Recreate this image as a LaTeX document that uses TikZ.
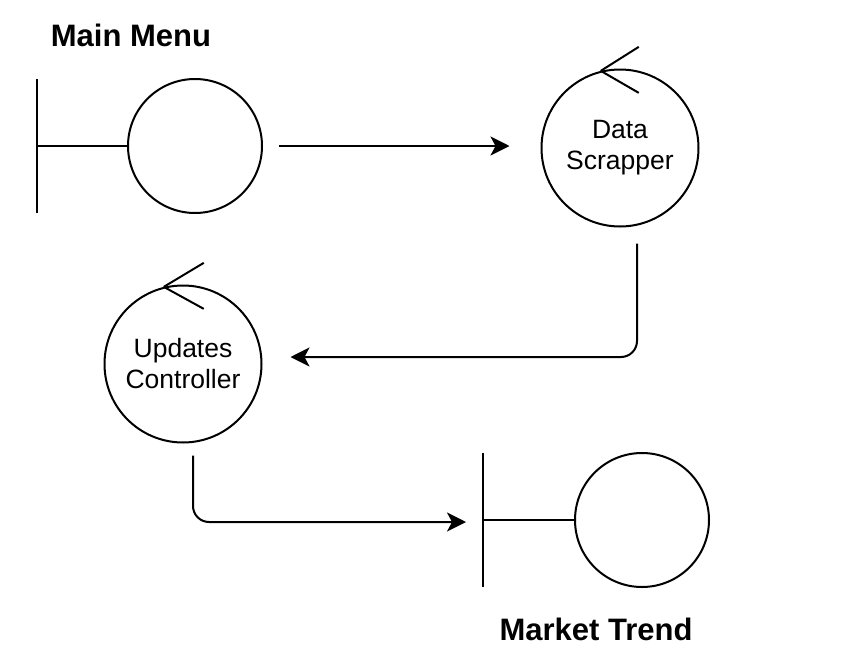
\documentclass[tikz,border=0pt]{standalone}
\usepackage{fontspec}
\setmainfont{Liberation Sans}
\usetikzlibrary{arrows.meta, positioning, calc}
\tikzset{
  ent/.style={draw, circle, line width=2pt, inner sep=0pt, minimum size=134pt},
  ctl/.style={draw, circle, line width=2pt, inner sep=0pt, minimum size=157pt, align=center,
    font=\fontsize{26.5}{31}\selectfont},
  arr/.style={-{Stealth[length=19pt, width=19pt, inset=5pt]}, line width=2pt, rounded corners=16pt},
  ttl/.style={font=\fontsize{31}{36}\selectfont\bfseries},
}
\begin{document}
\begin{tikzpicture}[x=1pt, y=-1pt, line width=2pt]
    \useasboundingbox (0,0) rectangle (847,667);
    % boundary objects
    \node[ent] (menu) at (195,146) {};
    \draw (menu.west) -- ++(-90,0) coordinate (menubar);
    \draw ($(menubar)+(0,-67)$) -- ($(menubar)+(0,67)$);
    \node[ttl] (menulbl) at (131,35) {Main Menu};
    \node[ent] (trend) at (642,520) {};
    \draw (trend.west) -- ++(-91,0) coordinate (trendbar);
    \draw ($(trendbar)+(0,-67)$) -- ($(trendbar)+(0,67)$);
    \node[ttl] (trendlbl) at (596,629) {Market Trend};
    % controllers
    \node[ctl] (scrap) at (620,148) {Data\\Scrapper};
    \draw (scrap.104.6) -- ++(38,-24);
    \draw (scrap.104.6) -- ++(38,22);
    \node[ctl] (upd) at (183,364) {Updates\\Controller};
    \draw (upd.104.6) -- ++(40,-24);
    \draw (upd.104.6) -- ++(40,22);
    % flows
    \draw[arr] ($(menu.east)+(16,0)$) -- ($(scrap.west)+(-31,-2)$);
    \draw[arr] ($(scrap.south)+(17,16)$) |- ($(upd.east)+(28,-7)$);
    \draw[arr] ($(upd.south)+(10,12)$) |- ($(trendbar)+(-17,2)$);
\end{tikzpicture}
\end{document}
